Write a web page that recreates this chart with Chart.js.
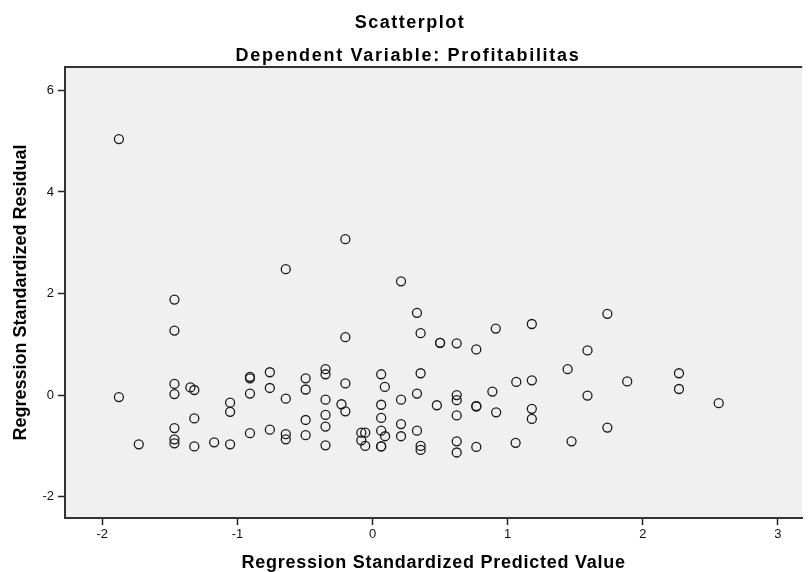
<!DOCTYPE html>
<html>
<head>
<meta charset="utf-8">
<script src="https://cdn.jsdelivr.net/npm/chart.js@4"></script>
<style>
body{margin:0;background:#fff;}
</style>
</head>
<body>
<canvas id="scatterChart" width="808" height="572"></canvas>
<script>

// values
const predicted = [
-1.877,-1.877,-1.730,-1.466,-1.466,-1.466,-1.466,-1.466,-1.466,-1.466,
-1.348,-1.319,-1.319,-1.319,-1.172,-1.054,-1.054,-1.054,-0.907,-0.907,
-0.907,-0.907,-0.760,-0.760,-0.760,-0.642,-0.642,-0.642,-0.642,-0.495,
-0.495,-0.495,-0.495,-0.348,-0.348,-0.348,-0.348,-0.348,-0.348,-0.230,
-0.201,-0.201,-0.201,-0.201,-0.083,-0.054,-0.083,-0.054,0.064,0.064,
0.064,0.064,0.064,0.064,0.091,0.093,0.211,0.211,0.211,0.211,
0.329,0.329,0.329,0.356,0.356,0.356,0.356,0.476,0.500,0.500,
0.623,0.623,0.623,0.623,0.623,0.623,0.768,0.768,0.768,0.768,
0.887,0.912,0.915,1.059,1.064,1.179,1.179,1.179,1.179,1.444,
1.473,1.591,1.591,1.738,1.738,1.885,2.268,2.268,2.562
];

const residual = [
5.04,-0.04,-0.97,1.88,1.27,0.22,0.02,-0.65,-0.87,-0.95,
0.15,0.10,-0.46,-1.01,-0.93,-0.15,-0.33,-0.97,0.36,0.33,
0.03,-0.75,0.45,0.14,-0.68,2.48,-0.07,-0.77,-0.87,0.33,
0.11,-0.49,-0.79,0.51,0.41,-0.09,-0.39,-0.62,-0.99,-0.18,
3.07,1.14,0.23,-0.32,-0.74,-0.74,-0.89,-1.00,0.41,-0.19,
-0.45,-0.70,-1.01,-1.01,0.16,-0.81,2.24,-0.09,-0.57,-0.81,
1.62,0.03,-0.70,1.22,0.43,-1.00,-1.08,-0.20,1.03,1.03,
1.02,0.00,-0.10,-0.40,-0.91,-1.13,0.90,-0.22,-0.22,-1.02,
0.07,1.31,-0.34,-0.94,0.26,1.40,0.29,-0.27,-0.47,0.51,
-0.91,0.88,-0.01,1.60,-0.64,0.27,0.43,0.12,-0.16
];

const xTicks = [-2,-1,0,1,2,3];
const yTicks = [-2,0,2,4,6];

const chartTitle = "Scatterplot";
const chartSubtitle = "Dependent Variable: Profitabilitas";
const xTitle = "Regression Standardized Predicted Value";
const yTitle = "Regression Standardized Residual";


const points = predicted.map((x,i)=>({x:x, y:residual[i]}));


/* plot background, top frame line, headings */
const frame = {
id:"frame",
beforeDraw(chart){
    const a = chart.chartArea;
    const ctx = chart.ctx;
    ctx.save();
    ctx.fillStyle = "#f0f0f0";
    ctx.fillRect(a.left, a.top, a.right - a.left, a.bottom - a.top);
    ctx.restore();
},
afterDatasetsDraw(chart){
    // x axis title is drawn after the points (z = 1), a bit wider spaced
    chart.ctx.letterSpacing = "0.75px";
},
afterDraw(chart){
    const a = chart.chartArea;
    const ctx = chart.ctx;
    ctx.letterSpacing = "0px";
    ctx.save();
    ctx.strokeStyle = "#333";
    ctx.lineWidth = 2;
    ctx.beginPath();
    ctx.moveTo(a.left - 1, a.top);
    ctx.lineTo(a.right, a.top);
    ctx.stroke();

    ctx.fillStyle = "#000";
    ctx.font = "bold 18px 'Liberation Sans', Arial, sans-serif";
    ctx.textAlign = "center";
    ctx.textBaseline = "alphabetic";
    ctx.letterSpacing = "1.5px";
    ctx.fillText(chartTitle, 410, 27.5);
    ctx.letterSpacing = "1.7px";
    ctx.fillText(chartSubtitle, 408, 61);
    ctx.restore();
    ctx.letterSpacing = "0px";
}
};


new Chart(document.getElementById("scatterChart"), {

type:"scatter",

data:{
datasets:[{
    data:points,
    pointStyle:"circle",
    pointRadius:4.5,
    pointHoverRadius:4.5,
    pointBorderWidth:1.3,
    borderColor:"#1a1a1a",
    backgroundColor:"rgba(0,0,0,0)"
}]
},

plugins:[frame],

options:{
responsive:false,
animation:false,
layout:{
    padding:{top:67, left:0, right:0, bottom:0}
},
plugins:{
    legend:{display:false},
    tooltip:{enabled:false},
    title:{display:false}
},
scales:{
    x:{
        type:"linear",
        min:-2.276,
        max:3.18,
        afterBuildTicks:s=>{ s.ticks = xTicks.map(v=>({value:v})); },
        afterFit:s=>{ s.height = 54; },
        grid:{drawOnChartArea:false, tickLength:7, tickColor:"#222", tickWidth:1.5, z:1},
        border:{color:"#333", width:2, z:1},
        ticks:{
            color:"#111",
            padding:2,
            font:{family:"'Liberation Sans', Arial, sans-serif", size:13}
        },
        title:{
            display:true,
            text:xTitle,
            color:"#000",
            padding:{top:0, bottom:-1.5},
            font:{family:"'Liberation Sans', Arial, sans-serif", size:18, weight:"bold"}
        }
    },
    y:{
        type:"linear",
        min:-2.42,
        max:6.46,
        afterBuildTicks:s=>{ s.ticks = yTicks.map(v=>({value:v})); },
        afterFit:s=>{ s.width = 65; },
        grid:{drawOnChartArea:false, tickLength:7, tickColor:"#222", tickWidth:1.5},
        border:{color:"#333", width:2},
        ticks:{
            color:"#111",
            padding:4,
            font:{family:"'Liberation Sans', Arial, sans-serif", size:13}
        },
        title:{
            display:true,
            text:yTitle,
            color:"#000",
            padding:{top:10, bottom:0},
            font:{family:"'Liberation Sans', Arial, sans-serif", size:18, weight:"bold"}
        }
    }
}
}

});

</script>
</body>
</html>
